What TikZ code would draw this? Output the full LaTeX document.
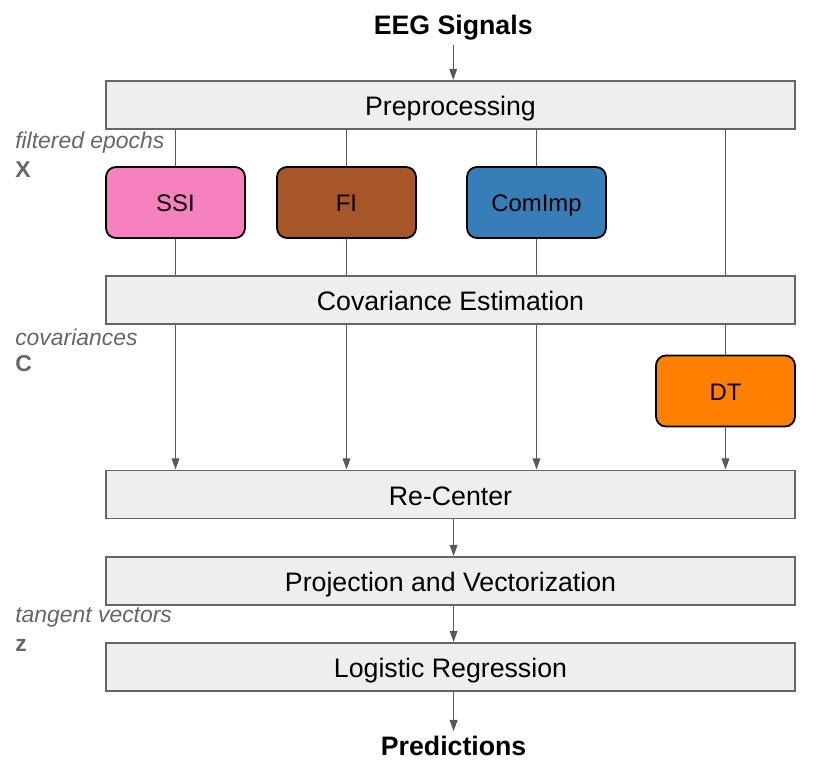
\documentclass[tikz,border=0pt]{standalone}
\usepackage{fontspec}
\setmainfont{Liberation Sans}
\usepackage{xcolor}
\usepackage{tikz}
\usetikzlibrary{positioning,calc,arrows.meta}

\definecolor{boxgray}{HTML}{EEEEEE}
\definecolor{linegray}{HTML}{595959}
\definecolor{labelgray}{HTML}{666666}
\definecolor{ssipink}{HTML}{F781BF}
\definecolor{fibrown}{HTML}{A65628}
\definecolor{cmblue}{HTML}{377EB8}
\definecolor{dtorange}{HTML}{FF7F00}

\tikzset{
    stage/.style={draw=labelgray, fill=boxgray, line width=1.4pt, minimum width=17.225cm, minimum height=1.2cm, inner sep=0pt, text height=15.2pt, text depth=0pt, font=\fontsize{19}{22}\selectfont},
    method/.style={draw=black, line width=1.3pt, rounded corners=0.25cm, minimum width=3.475cm, minimum height=1.775cm, inner sep=0pt, text height=13pt, text depth=0pt, font=\fontsize{17}{20}\selectfont},
    flow/.style={draw=linegray, line width=1pt},
    arr/.style={flow, -{Triangle[length=8pt, width=5.5pt]}, color=linegray},
    io/.style={font=\fontsize{19}{22}\selectfont\bfseries},
    datalabel/.style={anchor=west, text=labelgray, inner sep=0pt, font=\fontsize{16.3}{19}\selectfont\itshape},
    datavar/.style={anchor=west, text=labelgray, inner sep=0pt, font=\fontsize{16.3}{19}\selectfont\bfseries}
}

\begin{document}
\begin{tikzpicture}
    \useasboundingbox (0,0) rectangle (20.75,-19.3);

    % stages
    \node[io] (eeg) at (11.33,-0.68) {EEG Signals};
    \node[stage] (pre) at (11.2625,-2.625) {Preprocessing};
    \node[stage] (cov) at (11.2625,-7.5) {Covariance Estimation};
    \node[stage] (rec) at (11.2625,-12.3625) {Re-Center};
    \node[stage] (proj) at (11.2625,-14.525) {Projection and Vectorization};
    \node[stage] (logreg) at (11.2625,-16.675) {Logistic Regression};
    \node[io] (pred) at (11.34,-18.65) {Predictions};

    % augmentation methods
    \node[method, fill=ssipink] (ssi) at (4.3875,-5.0625) {SSI};
    \node[method, fill=fibrown] (fi) at (8.6625,-5.0625) {FI};
    \node[method, fill=cmblue] (comimp) at (13.4125,-5.0625) {ComImp};
    \node[method, fill=dtorange] (dt) at (18.1375,-9.775) {DT};

    % data labels
    \node[datalabel] (xlab) at (0.375,-3.575) {filtered epochs};
    \node[datavar] (xvar) at (0.375,-4.25) {X};
    \node[datalabel] (clab) at (0.375,-8.425) {covariances};
    \node[datavar] (cvar) at (0.375,-9.1) {C};
    \node[datalabel] (zlab) at (0.375,-15.425) {tangent vectors};
    \node[datavar] (zvar) at (0.375,-16.125) {z};

    % connectors
    \draw[arr] (eeg) -- (eeg |- pre.north);
    \foreach \m in {ssi,fi,comimp} {
        \draw[flow] (pre.south -| \m) -- (\m);
        \draw[flow] (\m) -- (\m |- cov.north);
        \draw[arr] (cov.south -| \m) -- (\m |- rec.north);
    }
    \draw[flow] (pre.south -| dt) -- (dt |- cov.north);
    \draw[flow] (cov.south -| dt) -- (dt);
    \draw[arr] (dt) -- (dt |- rec.north);

    \draw[arr] (rec.south -| pred) -- (pred |- proj.north);
    \draw[arr] (proj.south -| pred) -- (pred |- logreg.north);
    \draw[arr] (logreg.south -| pred) -- (pred);
\end{tikzpicture}
\end{document}
